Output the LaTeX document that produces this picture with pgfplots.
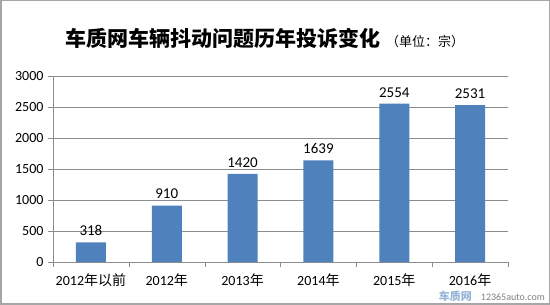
\documentclass[border=0pt]{standalone}
\usepackage{fontspec}
\setmainfont{Carlito}
\newfontfamily\cjk{Noto Sans CJK SC}
\usepackage{pgfplots}
\pgfplotsset{compat=1.18}
\definecolor{barblue}{HTML}{4F81BD}
\definecolor{gridgray}{HTML}{8C8C8C}
\definecolor{framegray}{HTML}{A6A6A6}
\begin{document}
\begin{tikzpicture}[x=1pt,y=1pt]
\draw[framegray,line width=1.5pt] (0.75,0.75) rectangle (549.25,304.25);
\node[anchor=base,font=\cjk\bfseries\fontsize{21}{24}\selectfont] at (223,258) {车质网车辆抖动问题历年投诉变化};
\node[anchor=base west,inner sep=0pt,font=\cjk\fontsize{13}{15}\selectfont] at (386,258) {（单位：宗）};
\begin{axis}[
  at={(53pt,43pt)}, anchor=south west,
  scale only axis, width=455pt, height=186pt,
  xmin=-0.5, xmax=5.5, ymin=0, ymax=3000,
  axis lines*=left,
  axis line style={gridgray},
  xtick={0,...,5},
  xticklabels={2012{\cjk 年以前},2012{\cjk 年},2013{\cjk 年},2014{\cjk 年},2015{\cjk 年},2016{\cjk 年}},
  major x tick style={draw=none},
  minor xtick={-0.5,0.5,...,5.5},
  minor tick length=5pt,
  minor x tick style={gridgray},
  ytick={0,500,...,3000},
  major tick length=5pt,
  tick align=outside,
  y tick style={gridgray},
  ymajorgrids,
  grid style={gridgray,line width=0.6pt},
  tick label style={font=\fontsize{14}{16}\selectfont},
  /pgf/number format/assume math mode=true,
  /pgf/number format/1000 sep={},
  yticklabel style={xshift=-1pt},
  xticklabel style={yshift=-3pt},
  nodes near coords,
  every node near coord/.append style={font=\fontsize{15}{17}\selectfont, yshift=3pt},
  clip=false,
]
\addplot[ybar, bar width=30pt, fill=barblue, draw=none] coordinates {
 (0,318) (1,910) (2,1420) (3,1639) (4,2554) (5,2531)
};
\end{axis}
\node[anchor=base east,inner sep=0pt,font=\cjk\bfseries\fontsize{11}{13}\selectfont,text=barblue!60] at (472,4) {车质网};
\node[anchor=base east,inner sep=0pt,font=\fontsize{10}{12}\selectfont,text=gray] at (545,4) {12365auto.com};
\end{tikzpicture}
\end{document}
